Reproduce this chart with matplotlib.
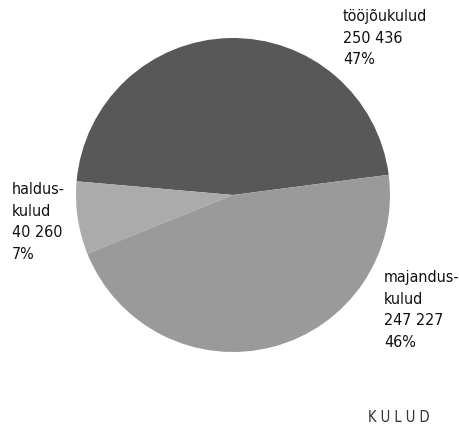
import matplotlib.pyplot as plt

# Kulud
labels = ['tööjõukulud\n250 436\n47%', 'haldus-\nkulud\n40 260\n7%', 'majandus-\nkulud\n247 227\n46%']
values = [250436, 40260, 247227]
colors = ['#585858', '#ababab', '#9a9a9a']

plt.rcParams['font.family'] = ['DejaVu Sans']
plt.rcParams['font.stretch'] = 'condensed'

fig = plt.figure(figsize=(4.6, 4.32), dpi=100)
W, H = 460, 432
ax = fig.add_axes([(233 - 157) / W, (H - 195 - 157) / H, 314 / W, 314 / H])
ax.pie(values, colors=colors, startangle=7.4, counterclock=True,
       wedgeprops=dict(linewidth=0))
ax.set_xlim(-1, 1)
ax.set_ylim(-1, 1)
ax.set_aspect('equal')

# sildid
pos = [(343, 9), (12, 182), (384, 270)]
for (x, y), lab in zip(pos, labels):
    fig.text(x / W, 1 - y / H, lab, ha='left', va='top', fontsize=11.5,
             linespacing=1.55, color='#111111', fontstretch='condensed')

fig.text(430 / W, 1 - 418 / H, 'K U L U D', ha='right', va='center',
         fontsize=10.5, color='#333333', fontstretch='condensed')

fig.savefig('out.png', dpi=100)
